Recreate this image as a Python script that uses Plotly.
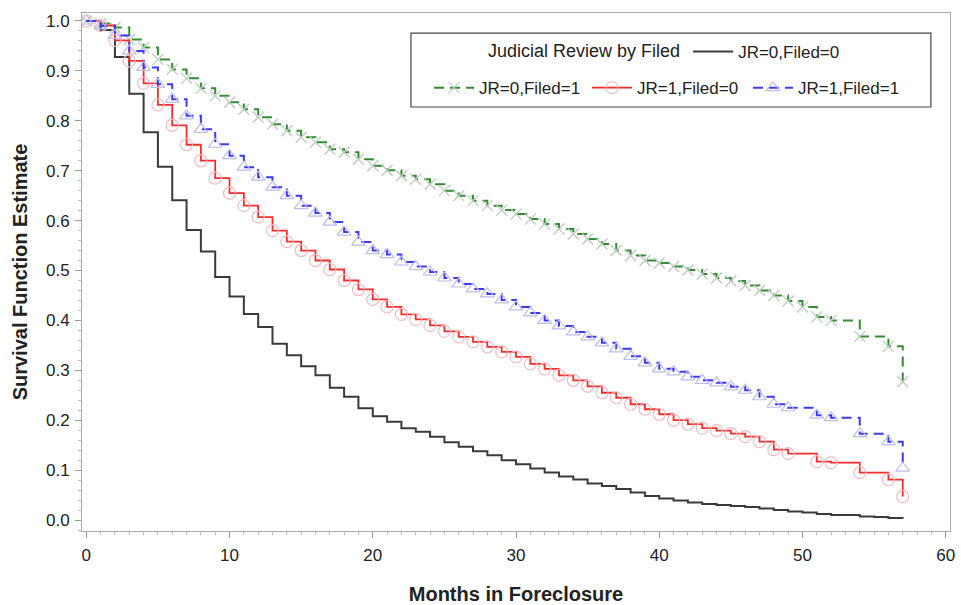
import plotly.graph_objects as go

months = list(range(0, 58))

surv_jr0_f0 = [1.0, 0.982, 0.928, 0.854, 0.777, 0.708, 0.641, 0.581, 0.538, 0.487,
               0.448, 0.413, 0.387, 0.353, 0.330, 0.308, 0.290, 0.265, 0.247, 0.224,
               0.208, 0.197, 0.184, 0.177, 0.167, 0.156, 0.147, 0.138, 0.130, 0.120,
               0.112, 0.103, 0.095, 0.087, 0.081, 0.073, 0.068, 0.062, 0.055, 0.048,
               0.043, 0.039, 0.035, 0.032, 0.030, 0.028, 0.026, 0.023, 0.020, 0.017,
               0.015, 0.012, 0.010, 0.010, 0.007, 0.006, 0.004, 0.003]

surv_jr0_f1 = [1.0, 0.995, 0.987, 0.963, 0.947, 0.923, 0.903, 0.885, 0.865, 0.850,
               0.837, 0.823, 0.807, 0.793, 0.780, 0.767, 0.757, 0.743, 0.737, 0.723,
               0.710, 0.701, 0.690, 0.683, 0.673, 0.660, 0.650, 0.640, 0.630, 0.621,
               0.613, 0.603, 0.593, 0.583, 0.573, 0.563, 0.553, 0.540, 0.530, 0.520,
               0.515, 0.508, 0.501, 0.493, 0.485, 0.479, 0.470, 0.460, 0.450, 0.439,
               0.427, 0.407, 0.400, 0.400, 0.368, 0.368, 0.348, 0.277]

surv_jr1_f0 = [1.0, 0.991, 0.961, 0.920, 0.875, 0.832, 0.791, 0.752, 0.720, 0.685,
               0.655, 0.630, 0.607, 0.580, 0.558, 0.540, 0.520, 0.502, 0.480, 0.462,
               0.442, 0.427, 0.412, 0.402, 0.390, 0.378, 0.367, 0.357, 0.347, 0.337,
               0.327, 0.313, 0.303, 0.290, 0.280, 0.268, 0.255, 0.245, 0.232, 0.222,
               0.212, 0.200, 0.192, 0.184, 0.179, 0.173, 0.167, 0.157, 0.141, 0.133,
               0.133, 0.117, 0.115, 0.115, 0.095, 0.095, 0.081, 0.047]

surv_jr1_f1 = [1.0, 0.990, 0.971, 0.940, 0.907, 0.873, 0.843, 0.810, 0.783, 0.753,
               0.730, 0.707, 0.687, 0.667, 0.650, 0.630, 0.615, 0.597, 0.577, 0.557,
               0.540, 0.532, 0.517, 0.508, 0.497, 0.485, 0.473, 0.463, 0.453, 0.441,
               0.427, 0.415, 0.400, 0.389, 0.377, 0.367, 0.355, 0.343, 0.328, 0.315,
               0.303, 0.297, 0.287, 0.280, 0.275, 0.267, 0.260, 0.247, 0.232, 0.225,
               0.225, 0.210, 0.205, 0.205, 0.173, 0.173, 0.157, 0.104]

series_names = ["JR=0,Filed=0", "JR=0,Filed=1", "JR=1,Filed=0", "JR=1,Filed=1"]
legend_title = "Judicial Review by Filed"

FONT = "Liberation Sans, Arial, sans-serif"


def marker_opacity(vals):
    out = []
    for i, v in enumerate(vals):
        out.append(1 if i == 0 or v != vals[i - 1] else 0)
    return out


fig = go.Figure()

fig.add_trace(go.Scatter(
    x=months, y=surv_jr0_f0, name=series_names[0], mode="lines",
    line=dict(shape="hv", color="#3a3a3a", width=2),
    legend="legend"))

fig.add_trace(go.Scatter(
    x=months, y=surv_jr0_f1, name=series_names[1], mode="lines+markers",
    line=dict(shape="hv", color="#2f8f2f", width=2, dash="10px,6px"),
    marker=dict(symbol="x-thin-open", size=11, color="#bccbbc",
                line=dict(width=1.3, color="#bccbbc"),
                opacity=marker_opacity(surv_jr0_f1)),
    legend="legend2"))

fig.add_trace(go.Scatter(
    x=months, y=surv_jr1_f0, name=series_names[2], mode="lines+markers",
    line=dict(shape="hv", color="#ff2a2a", width=1.8),
    marker=dict(symbol="circle-open", size=12, color="#f0bcc3",
                line=dict(width=1.2, color="#f0bcc3"),
                opacity=marker_opacity(surv_jr1_f0)),
    legend="legend3"))

fig.add_trace(go.Scatter(
    x=months, y=surv_jr1_f1, name=series_names[3], mode="lines+markers",
    line=dict(shape="hv", color="#3a3aff", width=2, dash="10px,6px"),
    marker=dict(symbol="triangle-up-open", size=12, color="#bcbcee",
                line=dict(width=1.2, color="#bcbcee"),
                opacity=marker_opacity(surv_jr1_f1)),
    legend="legend4"))

legend_common = dict(orientation="h", bgcolor="rgba(0,0,0,0)", borderwidth=0,
                     font=dict(family=FONT, size=17, color="#222"),
                     yanchor="middle", xanchor="left", itemwidth=40)

fig.update_layout(
    width=961, height=605,
    showlegend=True,
    margin=dict(l=82, r=11, t=13, b=74, autoexpand=False),
    paper_bgcolor="white", plot_bgcolor="white",
    font=dict(family=FONT, color="#222"),
    legend=dict(**legend_common, x=0.4655, y=0.925,
                title=dict(text=legend_title, side="left",
                           font=dict(family=FONT, size=18, color="#222"))),
    legend2=dict(**legend_common, x=0.3998, y=0.855),
    legend3=dict(**legend_common, x=0.5818, y=0.855),
    legend4=dict(**legend_common, x=0.7673, y=0.855),
    xaxis=dict(range=[-0.3, 60.3], tickmode="linear", tick0=0, dtick=10,
               automargin=False,
               ticks="outside", ticklen=6, tickcolor="#999", tickwidth=1,
               minor=dict(ticks="outside", dtick=1, ticklen=3, tickcolor="#bbb"),
               showgrid=False, zeroline=False, showline=True, linecolor="#aaa",
               mirror=True, tickfont=dict(family=FONT, size=17, color="#222"),
               ticklabelstandoff=3,
               title=dict(text="Months in Foreclosure", standoff=24,
                          font=dict(family=FONT, size=20, color="#222", weight="bold"))),
    yaxis=dict(range=[-0.022, 1.016], tickmode="linear", tick0=0, dtick=0.1,
               tickformat=".1f", automargin=False,
               ticks="outside", ticklen=6, tickcolor="#999", tickwidth=1,
               minor=dict(ticks="outside", dtick=0.02, ticklen=3, tickcolor="#bbb"),
               showgrid=False, zeroline=False, showline=True, linecolor="#aaa",
               mirror=True, tickfont=dict(family=FONT, size=17, color="#222"),
               ticklabelstandoff=2,
               title=dict(text="Survival Function Estimate", standoff=12,
                          font=dict(family=FONT, size=20, color="#222", weight="bold"))),
    shapes=[dict(type="rect", xref="paper", yref="paper",
                 x0=0.379, x1=0.978, y0=0.8185, y1=0.961,
                 line=dict(color="#444", width=1.2), fillcolor="rgba(0,0,0,0)")],
)

fig.write_html("out.html")
